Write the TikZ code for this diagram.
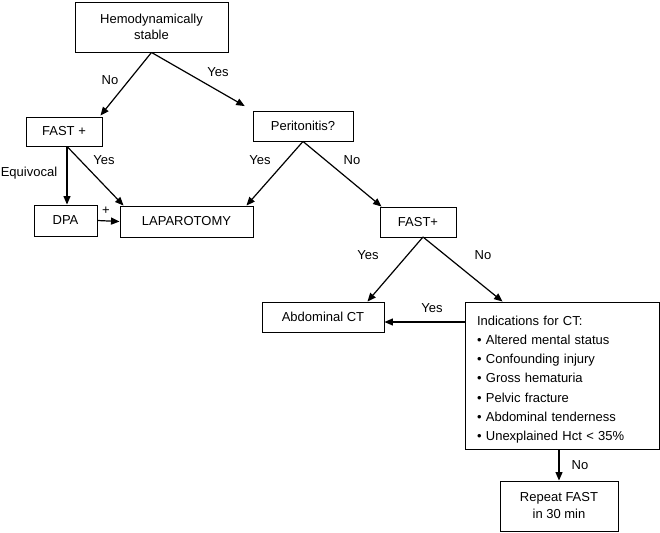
\documentclass[tikz,border=0pt]{standalone}
\usepackage{fontspec}
\setmainfont{Liberation Sans}
\usetikzlibrary{arrows.meta,calc}
\begin{document}
\begin{tikzpicture}[x=1pt,y=-1pt,
  box/.style={draw,line width=0.9pt,inner sep=0pt,align=center,font=\fontsize{13}{15.5}\selectfont},
  lbl/.style={inner sep=0pt,font=\fontsize{13}{15.5}\selectfont},
  arr/.style={line width=1.2pt,-{Triangle[length=8.5pt,width=7pt]}}]
\useasboundingbox[fill=white] (0,0) rectangle (660,532);
\node[box,minimum width=153pt,minimum height=50pt] (hemo) at (151.5,27) {Hemodynamically\\stable};
\node[box,minimum width=76pt,minimum height=29pt] (fast1) at (64,131.5) {FAST +};
\node[box,minimum width=100pt,minimum height=30pt] (perit) at (303,126) {Peritonitis?};
\node[box,minimum width=63pt,minimum height=31pt] (dpa) at (65.5,220.5) {DPA};
\node[box,minimum width=133pt,minimum height=31pt] (lap) at (186.5,221.5) {LAPAROTOMY};
\node[box,minimum width=76pt,minimum height=30pt] (fast2) at (418,222) {FAST+};
\node[box,minimum width=122pt,minimum height=30pt] (abd) at (323,317) {Abdominal CT};
\node[box,minimum width=194pt,minimum height=147pt] (ind) at (562,375.5) {};
\node[inner xsep=0pt,text width=170pt,align=left,font=\fontsize{13}{19.2}\selectfont] (indtxt) at ([yshift=-4pt]ind.center) {Indications for CT:\\
• Altered mental status\\
• Confounding injury\\
• Gross hematuria\\
• Pelvic fracture\\
• Abdominal tenderness\\
• Unexplained Hct < 35\%};
\node[box,minimum width=118pt,minimum height=50pt,font=\fontsize{13}{17}\selectfont] (rep) at (559,506) {Repeat FAST\\in 30 min};

\coordinate (apex) at (423,237);
\coordinate (ctarrow) at ([yshift=-5pt]abd.east);

\draw[arr] (hemo.south) -- ([xshift=-2pt,yshift=1pt]fast1.north east);
\draw[arr,shorten >=9pt] (hemo.south) -- (perit.north west);
\draw[arr] ([xshift=3pt]fast1.south) -- ([xshift=1.5pt]dpa.north);
\draw[arr] ([xshift=3pt]fast1.south) -- ([xshift=4pt]lap.north west);
\draw[arr] (perit.south) -- ([xshift=-7pt]lap.north east);
\draw[arr] (perit.south) -- ([xshift=2pt]fast2.north west);
\draw[arr] (dpa.east) -- (lap.west);
\draw[arr] (apex) -- ([xshift=-17pt]abd.north east);
\draw[arr] (apex) -- ([xshift=38pt]ind.north west);
\draw[arr] (ctarrow -| ind.west) -- (ctarrow);
\draw[arr] (rep.north |- ind.south) -- (rep.north);

\node[lbl] (l1) at (110,80) {No};
\node[lbl] (l2) at (218,72) {Yes};
\node[lbl] (l3) at (29,173) {Equivocal};
\node[lbl] (l4) at (104,160) {Yes};
\node[lbl] (l5) at (260,160) {Yes};
\node[lbl] (l6) at (352,160) {No};
\node[lbl] (l7) at (106,211) {+};
\node[lbl] (l8) at (368,255) {Yes};
\node[lbl] (l9) at (483,255) {No};
\node[lbl] (l10) at (432,308) {Yes};
\node[lbl] (l11) at (580,465) {No};
\end{tikzpicture}
\end{document}
